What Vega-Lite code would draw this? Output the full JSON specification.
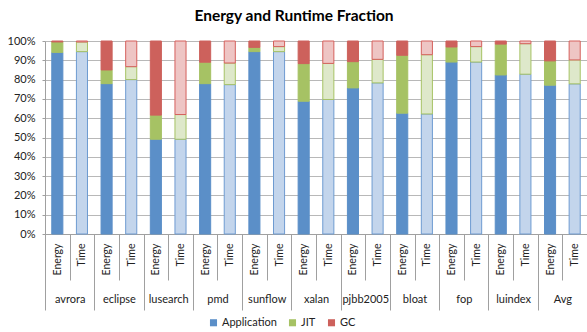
{
  "$schema": "https://vega.github.io/schema/vega-lite/v6.json",
  "width": 542,
  "height": 193,
  "autosize": "none",
  "padding": {"left": 45, "top": 41, "right": 0, "bottom": 98},
  "background": "white",
  "title": {"text": "Energy and Runtime Fraction", "font": "Lato", "fontSize": 15.5, "fontWeight": "bold", "color": "#000000", "anchor": "middle", "dx": -22, "offset": 11},
  "config": {
    "view": {"stroke": null},
    "font": "Lato",
    "axisY": {"grid": true, "gridColor": "#b8b8b8", "domainColor": "#a0a0a0", "tickColor": "#a0a0a0", "tickSize": 3, "labelPadding": 7, "labelFont": "Lato", "labelFontSize": 11, "labelColor": "#222222", "labelOverlap": false, "title": null}
  },
  "data": {"values": [
    {"bench": "avrora", "metric": "Energy", "series": "Application", "value": 94.1},
    {"bench": "avrora", "metric": "Energy", "series": "JIT", "value": 5.4},
    {"bench": "avrora", "metric": "Energy", "series": "GC", "value": 0.5},
    {"bench": "avrora", "metric": "Time", "series": "Application", "value": 94.5},
    {"bench": "avrora", "metric": "Time", "series": "JIT", "value": 5.0},
    {"bench": "avrora", "metric": "Time", "series": "GC", "value": 0.5},
    {"bench": "eclipse", "metric": "Energy", "series": "Application", "value": 77.9},
    {"bench": "eclipse", "metric": "Energy", "series": "JIT", "value": 7.1},
    {"bench": "eclipse", "metric": "Energy", "series": "GC", "value": 15.0},
    {"bench": "eclipse", "metric": "Time", "series": "Application", "value": 80.0},
    {"bench": "eclipse", "metric": "Time", "series": "JIT", "value": 6.7},
    {"bench": "eclipse", "metric": "Time", "series": "GC", "value": 13.3},
    {"bench": "lusearch", "metric": "Energy", "series": "Application", "value": 49.1},
    {"bench": "lusearch", "metric": "Energy", "series": "JIT", "value": 12.5},
    {"bench": "lusearch", "metric": "Energy", "series": "GC", "value": 38.4},
    {"bench": "lusearch", "metric": "Time", "series": "Application", "value": 49.1},
    {"bench": "lusearch", "metric": "Time", "series": "JIT", "value": 12.8},
    {"bench": "lusearch", "metric": "Time", "series": "GC", "value": 38.1},
    {"bench": "pmd", "metric": "Energy", "series": "Application", "value": 77.9},
    {"bench": "pmd", "metric": "Energy", "series": "JIT", "value": 11.1},
    {"bench": "pmd", "metric": "Energy", "series": "GC", "value": 11.0},
    {"bench": "pmd", "metric": "Time", "series": "Application", "value": 77.4},
    {"bench": "pmd", "metric": "Time", "series": "JIT", "value": 11.2},
    {"bench": "pmd", "metric": "Time", "series": "GC", "value": 11.4},
    {"bench": "sunflow", "metric": "Energy", "series": "Application", "value": 94.5},
    {"bench": "sunflow", "metric": "Energy", "series": "JIT", "value": 2.2},
    {"bench": "sunflow", "metric": "Energy", "series": "GC", "value": 3.3},
    {"bench": "sunflow", "metric": "Time", "series": "Application", "value": 94.5},
    {"bench": "sunflow", "metric": "Time", "series": "JIT", "value": 2.6},
    {"bench": "sunflow", "metric": "Time", "series": "GC", "value": 2.9},
    {"bench": "xalan", "metric": "Energy", "series": "Application", "value": 68.8},
    {"bench": "xalan", "metric": "Energy", "series": "JIT", "value": 19.5},
    {"bench": "xalan", "metric": "Energy", "series": "GC", "value": 11.7},
    {"bench": "xalan", "metric": "Time", "series": "Application", "value": 69.7},
    {"bench": "xalan", "metric": "Time", "series": "JIT", "value": 18.7},
    {"bench": "xalan", "metric": "Time", "series": "GC", "value": 11.6},
    {"bench": "pjbb2005", "metric": "Energy", "series": "Application", "value": 75.7},
    {"bench": "pjbb2005", "metric": "Energy", "series": "JIT", "value": 13.6},
    {"bench": "pjbb2005", "metric": "Energy", "series": "GC", "value": 10.7},
    {"bench": "pjbb2005", "metric": "Time", "series": "Application", "value": 78.3},
    {"bench": "pjbb2005", "metric": "Time", "series": "JIT", "value": 12.2},
    {"bench": "pjbb2005", "metric": "Time", "series": "GC", "value": 9.5},
    {"bench": "bloat", "metric": "Energy", "series": "Application", "value": 62.6},
    {"bench": "bloat", "metric": "Energy", "series": "JIT", "value": 30.0},
    {"bench": "bloat", "metric": "Energy", "series": "GC", "value": 7.4},
    {"bench": "bloat", "metric": "Time", "series": "Application", "value": 62.2},
    {"bench": "bloat", "metric": "Time", "series": "JIT", "value": 30.7},
    {"bench": "bloat", "metric": "Time", "series": "GC", "value": 7.1},
    {"bench": "fop", "metric": "Energy", "series": "Application", "value": 89.1},
    {"bench": "fop", "metric": "Energy", "series": "JIT", "value": 7.8},
    {"bench": "fop", "metric": "Energy", "series": "GC", "value": 3.1},
    {"bench": "fop", "metric": "Time", "series": "Application", "value": 89.1},
    {"bench": "fop", "metric": "Time", "series": "JIT", "value": 8.0},
    {"bench": "fop", "metric": "Time", "series": "GC", "value": 2.9},
    {"bench": "luindex", "metric": "Energy", "series": "Application", "value": 82.4},
    {"bench": "luindex", "metric": "Energy", "series": "JIT", "value": 16.0},
    {"bench": "luindex", "metric": "Energy", "series": "GC", "value": 1.6},
    {"bench": "luindex", "metric": "Time", "series": "Application", "value": 82.8},
    {"bench": "luindex", "metric": "Time", "series": "JIT", "value": 15.8},
    {"bench": "luindex", "metric": "Time", "series": "GC", "value": 1.4},
    {"bench": "Avg", "metric": "Energy", "series": "Application", "value": 77.1},
    {"bench": "Avg", "metric": "Energy", "series": "JIT", "value": 12.6},
    {"bench": "Avg", "metric": "Energy", "series": "GC", "value": 10.3},
    {"bench": "Avg", "metric": "Time", "series": "Application", "value": 77.8},
    {"bench": "Avg", "metric": "Time", "series": "JIT", "value": 12.4},
    {"bench": "Avg", "metric": "Time", "series": "GC", "value": 9.8}
  ]},
  "transform": [
    {"calculate": "datum.bench + '|' + datum.metric", "as": "bar"},
    {"calculate": "datum.series + '|' + datum.metric", "as": "key"},
    {"calculate": "indexof(['Application', 'JIT', 'GC'], datum.series)", "as": "rank"}
  ],
  "layer": [
    {
      "mark": {"type": "bar", "width": {"band": 0.45}, "strokeWidth": 1},
      "encoding": {
        "x": {"field": "bar", "type": "nominal", "sort": null, "title": null,
          "scale": {"paddingInner": 0, "paddingOuter": 0},
          "axis": {"orient": "bottom", "tickBand": "extent", "tickSize": 46, "tickColor": "#a0a0a0", "domainColor": "#a0a0a0", "labelAngle": 270, "labelPadding": -37, "labelExpr": "split(datum.label, '|')[1]", "labelFont": "Lato", "labelFontSize": 10.5, "labelColor": "#222222", "grid": false}},
        "y": {"field": "value", "type": "quantitative", "stack": "normalize",
          "axis": {"values": [0, 0.1, 0.2, 0.3, 0.4, 0.5, 0.6, 0.7, 0.8, 0.9, 1], "format": ".0%", "title": null}},
        "order": {"field": "rank", "type": "quantitative", "sort": "ascending"},
        "color": {"field": "key", "type": "nominal",
          "scale": {"domain": ["Application|Energy", "Application|Time", "JIT|Energy", "JIT|Time", "GC|Energy", "GC|Time"],
                    "range": ["#5b8fc8", "#c3d5ec", "#a6c264", "#dee8ca", "#cd615c", "#eec5c4"]},
          "legend": {"orient": "none", "legendX": 163, "legendY": 276, "direction": "horizontal", "title": null,
            "values": ["Application|Energy", "JIT|Energy", "GC|Energy"],
            "labelExpr": "split(datum.label, '|')[0]", "symbolType": "square", "symbolSize": 50, "symbolStrokeWidth": 0,
            "labelFont": "Lato", "labelFontSize": 11, "labelColor": "#222222", "labelOffset": 3, "columnPadding": 10}},
        "stroke": {"field": "key", "type": "nominal",
          "scale": {"domain": ["Application|Energy", "Application|Time", "JIT|Energy", "JIT|Time", "GC|Energy", "GC|Time"],
                    "range": ["#5b8fc8", "#6e9bd1", "#a6c264", "#a6c264", "#cd615c", "#d5605c"]},
          "legend": null}
      }
    },
    {
      "mark": {"type": "bar", "opacity": 0},
      "encoding": {
        "x": {"field": "bench", "type": "nominal", "sort": null, "title": null,
          "scale": {"paddingInner": 0, "paddingOuter": 0},
          "axis": {"orient": "bottom", "tickBand": "extent", "tickSize": 76, "tickColor": "#a0a0a0", "domain": false, "labelAngle": 0, "labelPadding": -17, "labelFont": "Lato", "labelFontSize": 11, "labelColor": "#222222", "grid": false}},
        "y": {"field": "value", "type": "quantitative", "stack": "normalize",
          "axis": {"values": [0, 0.1, 0.2, 0.3, 0.4, 0.5, 0.6, 0.7, 0.8, 0.9, 1], "format": ".0%", "title": null}}
      }
    }
  ],
  "resolve": {"scale": {"x": "independent"}, "axis": {"x": "independent"}}
}
